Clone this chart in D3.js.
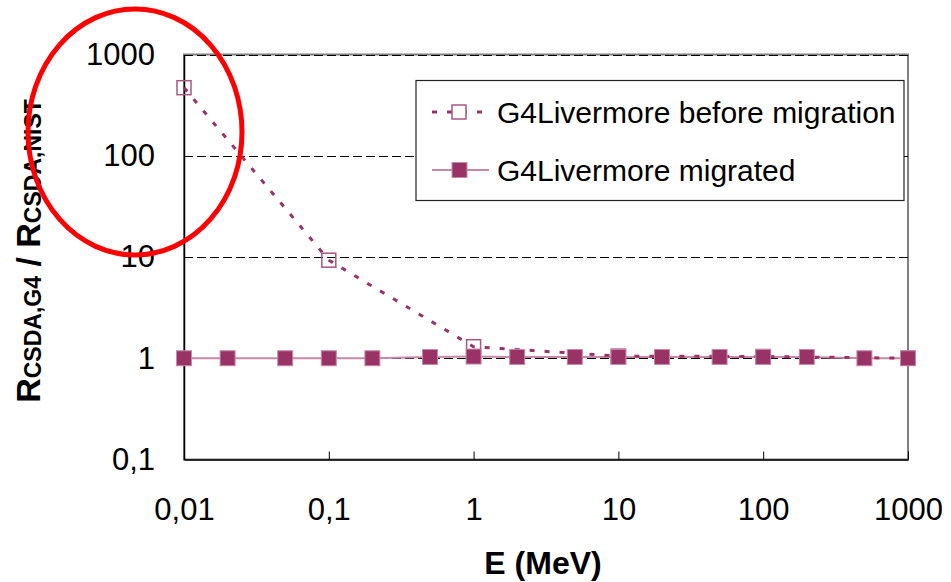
<!DOCTYPE html>
<html>
<head>
<meta charset="utf-8">
<script src="https://cdn.jsdelivr.net/npm/d3@7"></script>
<style>
  html, body { margin: 0; padding: 0; background: #fff; }
  svg { display: block; font-family: "Liberation Sans", Arial, sans-serif; }
</style>
</head>
<body>
<svg id="chart" width="951" height="582"></svg>
<script>
// Energy grid (MeV) and CSDA range ratios G4 / NIST
const energiesBefore = [0.01, 0.1, 1, 10, 100, 1000];
const ratioBefore    = [470, 9.3, 1.3, 1.05, 1.04, 1.0];

const energiesMigrated = [0.01, 0.02, 0.05, 0.1, 0.2, 0.5, 1, 2, 5, 10, 20, 50, 100, 200, 500, 1000];
const ratioMigrated    = [1.0, 1.0, 1.0, 1.0, 1.0, 1.03, 1.04, 1.03, 1.03, 1.03, 1.03, 1.03, 1.03, 1.03, 1.0, 1.0];

const xTicks = [0.01, 0.1, 1, 10, 100, 1000];
const xTickLabels = ["0,01", "0,1", "1", "10", "100", "1000"];
const yTicks = [0.1, 1, 10, 100, 1000];
const yTickLabels = ["0,1", "1", "10", "100", "1000"];

const seriesNames = ["G4Livermore before migration", "G4Livermore migrated"];

const plum = "#993366";
const plumLight = "#c68aa8";
const plumEdge = "#a8577f";

const svg = d3.select("#chart");
const plotL = 184, plotR = 908, plotT = 54.5, plotB = 459.5;

const x = d3.scaleLog().domain([0.01, 1000]).range([plotL, plotR]);
const y = d3.scaleLog().domain([0.1, 1000]).range([plotB, plotT]);

// plot area frame (grey), gridlines dashed black
svg.append("rect")
  .attr("x", plotL).attr("y", plotT)
  .attr("width", plotR - plotL).attr("height", plotB - plotT)
  .attr("fill", "none").attr("stroke", "#808080").attr("stroke-width", 2);

svg.append("g").selectAll("line")
  .data(yTicks.filter(d => d > 0.1))
  .join("line")
  .attr("x1", plotL).attr("x2", plotR)
  .attr("y1", d => Math.round(y(d)) + 0.5).attr("y2", d => Math.round(y(d)) + 0.5)
  .attr("stroke", "#000").attr("stroke-width", 1)
  .attr("shape-rendering", "crispEdges")
  .attr("stroke-dasharray", "9,4");

// axes
const xAxis = d3.axisBottom(x).tickValues(xTicks).tickFormat((d, i) => xTickLabels[i])
  .tickSizeInner(-8).tickSizeOuter(0).tickPadding(38);
const gx = svg.append("g").attr("transform", `translate(0,${plotB})`).call(xAxis);
gx.select(".domain").attr("stroke", "#000").attr("stroke-width", 1.5);
gx.selectAll(".tick line").attr("stroke", "#000");
gx.selectAll(".tick text")
  .attr("font-size", 31).attr("fill", "#000")
  .attr("font-family", "'Liberation Sans', Arial, sans-serif")
  .attr("dy", "0.71em");

const yAxis = d3.axisLeft(y).tickValues(yTicks).tickFormat((d, i) => yTickLabels[i])
  .tickSizeInner(0).tickSizeOuter(0).tickPadding(29);
const gy = svg.append("g").attr("transform", `translate(${plotL},0)`).call(yAxis);
gy.select(".domain").attr("stroke", "#000").attr("stroke-width", 1.5);
gy.selectAll(".tick text")
  .attr("font-size", 31).attr("fill", "#000")
  .attr("font-family", "'Liberation Sans', Arial, sans-serif");

// series lines
const lineGen = d3.line().x(d => x(d[0])).y(d => y(d[1]));
const before = energiesBefore.map((e, i) => [e, ratioBefore[i]]);
const migrated = energiesMigrated.map((e, i) => [e, ratioMigrated[i]]);

svg.append("path").datum(migrated)
  .attr("d", lineGen).attr("fill", "none")
  .attr("stroke", plumLight).attr("stroke-width", 2);

svg.append("path").datum(before)
  .attr("d", lineGen).attr("fill", "none")
  .attr("stroke", plum).attr("stroke-width", 3)
  .attr("stroke-dasharray", "5,10");

// markers
const s = 14;
svg.append("g").selectAll("rect")
  .data(before)
  .join("rect")
  .attr("x", d => x(d[0]) - s / 2).attr("y", d => y(d[1]) - s / 2)
  .attr("width", s).attr("height", s)
  .attr("fill", "none").attr("stroke", plumEdge).attr("stroke-width", 1.5);

svg.append("g").selectAll("rect")
  .data(migrated)
  .join("rect")
  .attr("x", d => x(d[0]) - 7.5).attr("y", d => y(d[1]) - 7.5)
  .attr("width", 15).attr("height", 15)
  .attr("fill", plum).attr("stroke", plumLight).attr("stroke-width", 1);

// legend
const lg = svg.append("g");
lg.append("rect").attr("x", 416).attr("y", 80.5).attr("width", 488).attr("height", 120)
  .attr("fill", "#fff").attr("stroke", "#222").attr("stroke-width", 1.2);
const rows = [112, 170];
lg.append("line").attr("x1", 432).attr("x2", 486).attr("y1", rows[0]).attr("y2", rows[0])
  .attr("stroke", plum).attr("stroke-width", 3).attr("stroke-dasharray", "5,10");
lg.append("rect").attr("x", 452).attr("y", rows[0] - 7).attr("width", s).attr("height", s)
  .attr("fill", "#fff").attr("stroke", plumEdge).attr("stroke-width", 1.5);
lg.append("line").attr("x1", 432).attr("x2", 489).attr("y1", rows[1]).attr("y2", rows[1])
  .attr("stroke", plumLight).attr("stroke-width", 2);
lg.append("rect").attr("x", 452).attr("y", rows[1] - 7.5).attr("width", 15).attr("height", 15)
  .attr("fill", plum).attr("stroke", plumLight).attr("stroke-width", 1);
lg.selectAll("text.leg").data(seriesNames).join("text")
  .attr("class", "leg")
  .attr("x", 497).attr("y", (d, i) => rows[i] + 11)
  .attr("font-size", 30).attr("fill", "#000")
  .text(d => d);

// axis titles
svg.append("text")
  .attr("x", 543).attr("y", 574)
  .attr("text-anchor", "middle")
  .attr("font-size", 32).attr("font-weight", "bold")
  .text("E (MeV)");

const yt = svg.append("text")
  .attr("transform", "translate(40,251) rotate(-90)")
  .attr("text-anchor", "middle")
  .attr("font-weight", "bold").attr("font-size", 34);
yt.append("tspan").text("R");
yt.append("tspan").attr("font-size", 23).attr("dy", 1).text("CSDA,G4");
yt.append("tspan").attr("dy", -1).text(" / R");
yt.append("tspan").attr("font-size", 23).attr("dy", 1).text("CSDA,NIST");

// highlight ring around the low-energy region
svg.append("ellipse")
  .attr("cx", 135).attr("cy", 132).attr("rx", 107).attr("ry", 123)
  .attr("fill", "none").attr("stroke", "#ff0000").attr("stroke-width", 5);
</script>
</body>
</html>
